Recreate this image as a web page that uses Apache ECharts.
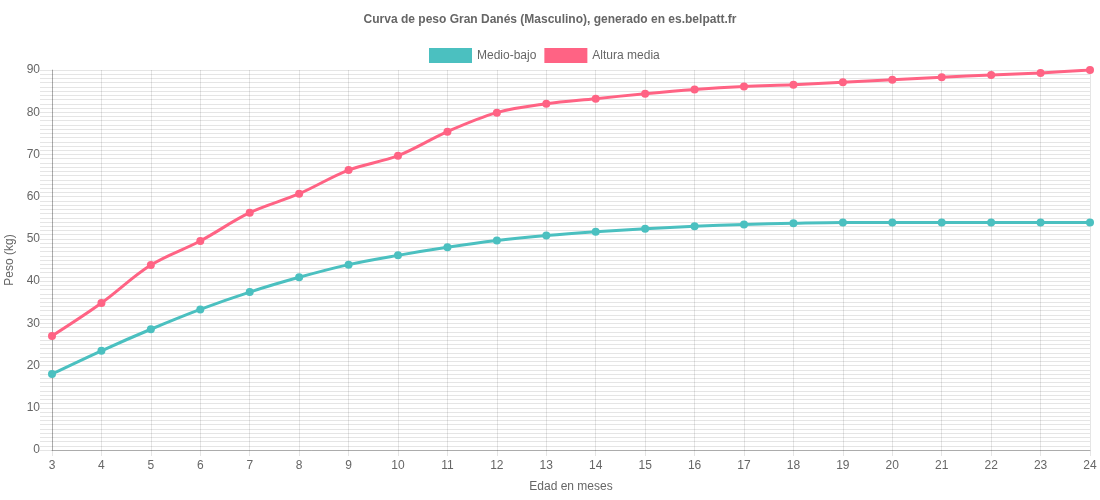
<!DOCTYPE html>
<html>
<head>
<meta charset="utf-8">
<script src="https://cdn.jsdelivr.net/npm/echarts@6/dist/echarts.min.js"></script>
<style>
    html, body { margin: 0; padding: 0; background: #fff; }
    #chart { width: 1100px; height: 500px; }
</style>
</head>
<body>
<div id="chart"></div>
<script>
// datos
const meses = ['3', '4', '5', '6', '7', '8', '9', '10', '11', '12', '13', '14', '15', '16', '17', '18', '19', '20', '21', '22', '23', '24'];
const medioBajo = [18, 23.5, 28.6, 33.3, 37.4, 40.9, 43.9, 46.1, 48, 49.6, 50.8, 51.7, 52.4, 53, 53.4, 53.7, 53.9, 53.9, 53.9, 53.9, 53.9, 53.9];
const alturaMedia = [27, 34.8, 43.8, 49.5, 56.2, 60.7, 66.3, 69.7, 75.4, 79.9, 82, 83.2, 84.4, 85.4, 86.1, 86.5, 87.1, 87.7, 88.3, 88.8, 89.3, 90];

const fuente = 'Liberation Sans, Arial, Helvetica, sans-serif';
const gris = '#666';
const linea = 'rgba(0,0,0,0.1)';

let myChart = echarts.init(document.getElementById('chart'));

let option = {
    animation: false,
    textStyle: { fontFamily: fuente },
    title: {
        text: 'Curva de peso Gran Danés (Masculino), generado en es.belpatt.fr',
        left: 'center',
        top: 9,
        textStyle: { color: gris, fontSize: 12, fontWeight: 'bold', fontFamily: fuente }
    },
    legend: {
        top: 43,
        left: 424,
        itemWidth: 43,
        itemHeight: 15,
        itemGap: 8,
        icon: 'rect',
        textStyle: { color: gris, fontSize: 12, fontFamily: fuente },
        data: ['Medio-bajo', 'Altura media']
    },
    grid: {
        left: 52,
        right: 10,
        top: 70,
        bottom: 50,
        outerBoundsMode: 'none',
        containLabel: false
    },
    xAxis: {
        type: 'category',
        boundaryGap: false,
        data: meses,
        name: 'Edad en meses',
        nameLocation: 'middle',
        nameGap: 31,
        nameTextStyle: { color: gris, fontSize: 12 },
        axisLine: { lineStyle: { color: 'rgba(0,0,0,0.25)' } },
        axisTick: { show: true, length: 6, alignWithLabel: true, lineStyle: { color: linea } },
        axisLabel: { color: gris, fontSize: 12, margin: 10 },
        splitLine: { show: true, lineStyle: { color: linea } }
    },
    yAxis: {
        type: 'value',
        min: 0,
        max: 90,
        interval: 1,
        name: 'Peso (kg)',
        nameLocation: 'middle',
        nameGap: 33,
        nameTextStyle: { color: gris, fontSize: 12 },
        axisLine: { show: true, lineStyle: { color: 'rgba(0,0,0,0.25)' } },
        axisTick: { show: true, length: 12, lineStyle: { color: linea } },
        axisLabel: {
            color: gris,
            fontSize: 12,
            margin: 12,
            formatter: (v) => (v % 10 === 0 ? String(v) : '')
        },
        splitLine: { show: true, lineStyle: { color: linea } }
    },
    series: [
        {
            name: 'Medio-bajo',
            type: 'line',
            data: medioBajo,
            smooth: 0.35,
            symbol: 'circle',
            symbolSize: 8,
            color: '#4bc0c0',
            lineStyle: { width: 3 }
        },
        {
            name: 'Altura media',
            type: 'line',
            data: alturaMedia,
            smooth: 0.35,
            symbol: 'circle',
            symbolSize: 8,
            color: '#ff6384',
            lineStyle: { width: 3 }
        }
    ]
};

myChart.setOption(option);
</script>
</body>
</html>
